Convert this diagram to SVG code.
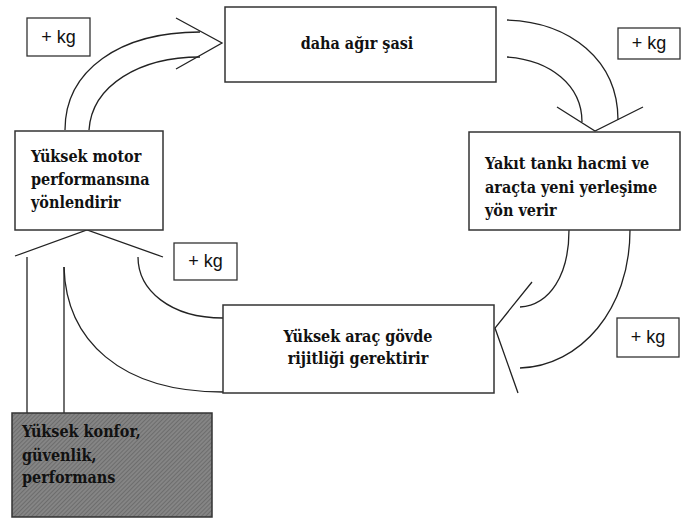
<svg xmlns="http://www.w3.org/2000/svg" width="681" height="519" viewBox="0 0 681 519">
<style>
.box{fill:#fff;stroke:#333;stroke-width:1.5}
.kg{fill:#fff;stroke:#333;stroke-width:1.3}
.t{font-family:'DejaVu Serif Condensed','Liberation Serif',serif;font-weight:700;font-size:16px;fill:#111}
.k{font-family:'Liberation Sans',Arial,sans-serif;font-size:18px;fill:#111}
.c{fill:none;stroke:#222;stroke-width:1.3}
</style>
<defs>
<pattern id="hatch" width="3" height="3" patternUnits="userSpaceOnUse" patternTransform="rotate(45)">
<rect width="3" height="3" fill="#858585"/>
<line x1="0" y1="0" x2="0" y2="3" stroke="#555" stroke-width="1"/>
</pattern>
</defs>
<rect width="681" height="519" fill="#fff"/>
<g id="connectors">
<path class="c" d="M65,130 C65,70 120,32 200,32"/>
<path class="c" d="M89,130 C92,85 140,57 200,57"/>
<path class="c" d="M176,18 L222,43 L176,69"/>
<path class="c" d="M507,20 C570,22 618,60 618,120"/>
<path class="c" d="M507,57 C550,60 582,85 582,122"/>
<path class="c" d="M557,107 L595,131 L643,107"/>
<path class="c" d="M569,230 C569,275 550,305 520,307"/>
<path class="c" d="M630,230 C630,310 580,366 520,368"/>
<path class="c" d="M532,282 L495,328 L518,393"/>
<path class="c" d="M223,318 C170,318 138,290 138,257"/>
<path class="c" d="M223,392 C120,392 66,340 64,267"/>
<path class="c" d="M15,256 L87,230 L163,257"/>
<path class="c" d="M27,257 L27,413"/>
<path class="c" d="M64,267 L64,413"/>
</g>
<g id="chassis">
<rect class="box" x="225" y="7" width="271" height="75"/>
<text class="t" x="357" y="49" text-anchor="middle">daha ağır şasi</text>
</g>
<g id="motor">
<rect class="box" x="15" y="131" width="148" height="99"/>
<text class="t" x="31" y="162">Yüksek motor</text>
<text class="t" x="31" y="185">performansına</text>
<text class="t" x="31" y="208">yönlendirir</text>
</g>
<g id="fuel">
<rect class="box" x="469" y="132" width="211" height="98"/>
<text class="t" x="485" y="169">Yakıt tankı hacmi ve</text>
<text class="t" x="485" y="193">araçta yeni yerleşime</text>
<text class="t" x="485" y="216">yön verir</text>
</g>
<g id="body">
<rect class="box" x="223" y="305" width="271" height="88"/>
<text class="t" x="358" y="342" text-anchor="middle">Yüksek araç gövde</text>
<text class="t" x="358" y="364" text-anchor="middle">rijitliği gerektirir</text>
</g>
<g id="comfort">
<rect x="12" y="413" width="200" height="104" fill="url(#hatch)" stroke="#333" stroke-width="1.5"/>
<text class="t" x="22" y="437">Yüksek konfor,</text>
<text class="t" x="22" y="461">güvenlik,</text>
<text class="t" x="22" y="483">performans</text>
</g>
<g id="kg1">
<rect class="kg" x="27" y="18" width="63" height="38"/>
<text class="k" x="58.5" y="43" text-anchor="middle">+ kg</text>
</g>
<g id="kg2">
<rect class="kg" x="618" y="28" width="62" height="31"/>
<text class="k" x="649" y="49" text-anchor="middle">+ kg</text>
</g>
<g id="kg3">
<rect class="kg" x="174" y="243" width="63" height="37"/>
<text class="k" x="205.5" y="267" text-anchor="middle">+ kg</text>
</g>
<g id="kg4">
<rect class="kg" x="617" y="318" width="62" height="39"/>
<text class="k" x="648" y="343" text-anchor="middle">+ kg</text>
</g>
</svg>
